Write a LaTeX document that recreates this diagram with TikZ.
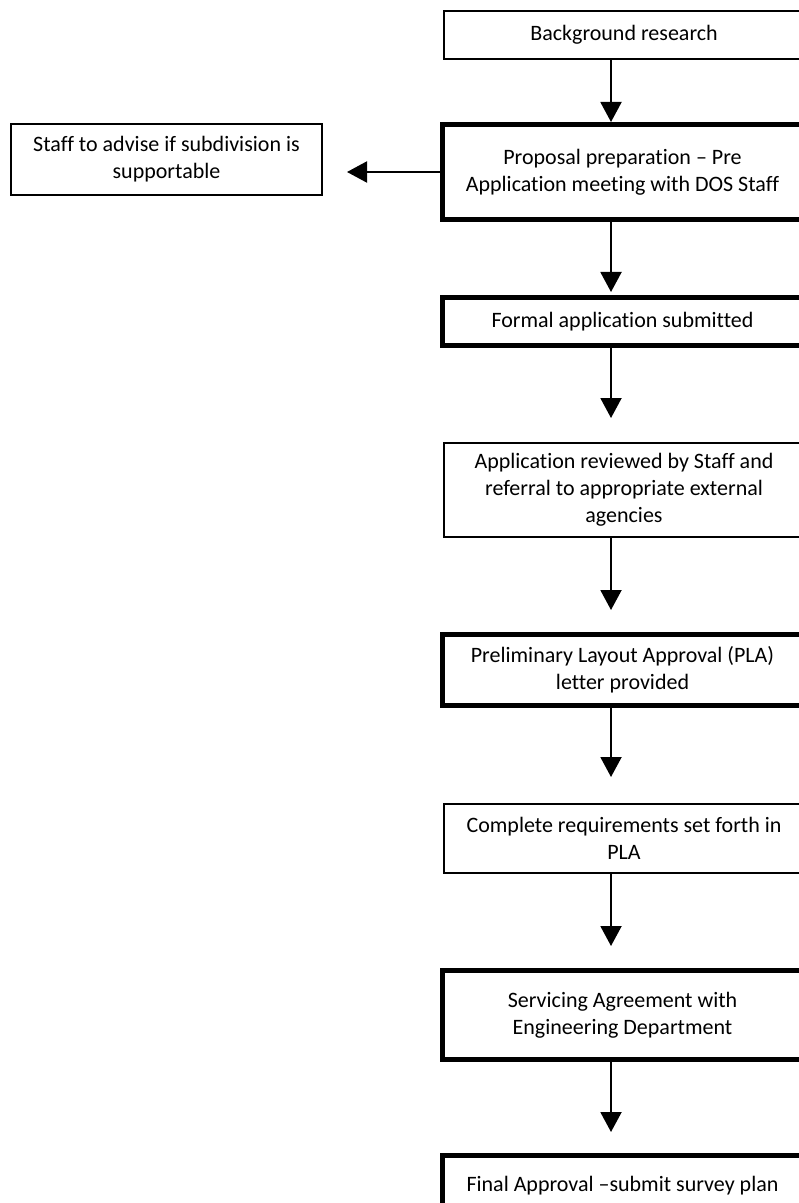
\documentclass[tikz,border=0pt]{standalone}
\usepackage{fontspec}
\setmainfont[Ligatures=NoCommon]{Carlito}
\usetikzlibrary{arrows.meta}

\begin{document}
\begin{tikzpicture}[x=0.5pt,y=-0.5pt,
        every node/.style={font=\fontsize{11}{13.5}\selectfont, align=center, inner sep=0pt, anchor=north west},
        thinbox/.style={draw, line width=1pt, minimum width=180pt},
        thickbox/.style={draw, line width=2.5pt, minimum width=180pt},
        arr/.style={line width=1pt, -{Triangle[width=10.5pt,length=10pt]}}]
    \useasboundingbox (0,0) rectangle (798,1203);
    \begin{scope}

        \node [thinbox, minimum height=24pt] (b1) at (443,10) {Background research};
        \node [thickbox, minimum height=47.5pt] (b2) at (440,122) {Proposal preparation -- Pre\\Application meeting with DOS Staff};
        \node [thinbox, minimum width=155.5pt, minimum height=35.5pt] (adv) at (10,123) {Staff to advise if subdivision is\\supportable};
        \node [thickbox, minimum height=24pt] (b3) at (440,295) {Formal application submitted};
        \node [thinbox, minimum height=47pt] (b4) at (443,442) {Application reviewed by Staff and\\referral to appropriate external\\agencies};
        \node [thickbox, minimum height=35.5pt] (b5) at (440,632) {Preliminary Layout Approval (PLA)\\letter provided};
        \node [thinbox, minimum height=34.5pt] (b6) at (443,803) {Complete requirements set forth in\\PLA};
        \node [thickbox, minimum height=44.5pt] (b7) at (440,968) {Servicing Agreement with\\Engineering Department};
        \node [thickbox, minimum height=30pt] (b8) at (440,1153) {Final Approval --submit survey plan};

        \coordinate (ax) at (611,0);

        \foreach \a/\b/\s in {b1/b2/0,b2/b3/1.5,b3/b4/12,b4/b5/11,b5/b6/13,b6/b7/11,b7/b8/10.5}{%
                \draw [arr, shorten >=\s pt] (\a.south -| ax) -- (\b.north -| ax);}

        \draw [arr, shorten >=12pt] (b2.west) -- (adv.east |- b2.west);
    \end{scope}
\end{tikzpicture}
\end{document}
